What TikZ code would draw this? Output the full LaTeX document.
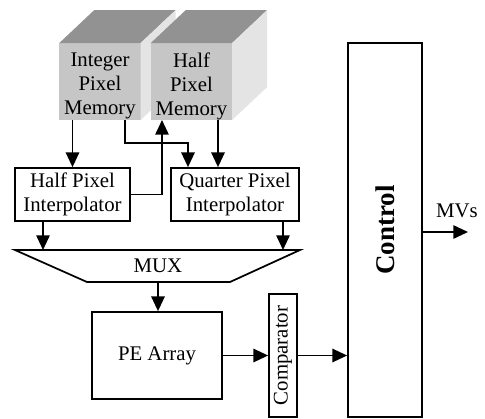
\documentclass[tikz,border=0pt]{standalone}
\usepackage{fontspec}
\setmainfont{Liberation Serif}
\usetikzlibrary{arrows.meta, calc, positioning}
\definecolor{MemFront}{RGB}{198,198,198}
\definecolor{MemTop}{RGB}{146,146,146}
\definecolor{MemSide}{RGB}{228,228,228}

\begin{document}
\begin{tikzpicture}[x=0.75pt, y=-0.75pt,
    txt/.style={font=\fontsize{15.6}{18}\selectfont, align=center},
    blk/.style={txt, rectangle, draw, line width=1.3pt, inner sep=0pt},
    mem/.style={rectangle, fill=MemFront, inner sep=0pt, outer sep=0pt,
                minimum width=61pt, minimum height=57.75pt},
    arr/.style={-{Triangle[length=11pt, width=10pt]}, line width=1.3pt}
  ]
  \useasboundingbox (0,0) rectangle (485,418);

  % memories (cubes)
  \foreach \n/\x/\t in {ipm/100/{Integer\\Pixel\\Memory}, hpm/191.5/{Half\\Pixel\\Memory}} {
    \node[mem, label={[txt, yshift=-3.5pt]center:\t}] (\n) at (\x, 81.5) {};
    \fill[MemTop] (\n.north west) -- ++(35,-33) -- ($(\n.north east)+(35,-33)$)
                  -- (\n.north east) -- cycle;
    \fill[MemSide] (\n.north east) -- ++(35,-33) -- ++(0,77) -- (\n.south east) -- cycle;
  }

  % interpolators
  \node[blk, minimum width=86.25pt, minimum height=39.75pt] (hpi) at (72.5,194.5)
        {Half Pixel\\Interpolator};
  \node[blk, minimum width=96pt, minimum height=39.75pt] (qpi) at (235,194.5)
        {Quarter Pixel\\Interpolator};

  % MUX
  \draw[line width=1.3pt] (15,250) -- (300,250) -- (230,282) -- (87,282) -- cycle;
  \node[txt] (mux) at (158,266) {MUX};
  \coordinate (muxL) at (43,250);
  \coordinate (muxR) at (283,250);
  \coordinate (muxB) at (158,282);

  % PE array, comparator, control
  \node[blk, minimum width=97.5pt, minimum height=65.25pt] (pe) at (157,355.5) {PE Array};
  \node[blk, rotate=90, minimum width=92.25pt, minimum height=21pt] (cmp) at (283,355.5)
        {Comparator};
  \node[blk, rotate=90, font=\fontsize{20.25}{24}\selectfont\bfseries,
        minimum width=280.5pt, minimum height=55.5pt] (ctrl) at (385,230) {Control};
  \coordinate (mvs) at (468,232);
  \node[txt] (mvsl) at (457,211) {MVs};

  % connections
  \draw[arr] (hpi.north |- ipm.south) -- (hpi.north);
  \draw[arr] ($(ipm.south)+(25,0)$) |- ($(qpi.north)+(-47,-24)$) -- ($(qpi.north)+(-47,0)$);
  \draw[arr] ($(hpm.south)+(26.5,0)$) -- ($(qpi.north)+(-17,0)$);
  \draw[arr] (hpi.east) -| ($(hpm.south)+(-29.5,0)$);
  \draw[arr] (muxL |- hpi.south) -- (muxL);
  \draw[arr] (muxR |- qpi.south) -- (muxR);
  \draw[arr] (muxB) -- (muxB |- pe.north);
  \draw[arr] (pe) -- (cmp);
  \draw[arr] (cmp.south) -- (cmp.south -| ctrl.north);
  \draw[arr] (ctrl.south |- mvs) -- (mvs);
\end{tikzpicture}
\end{document}
